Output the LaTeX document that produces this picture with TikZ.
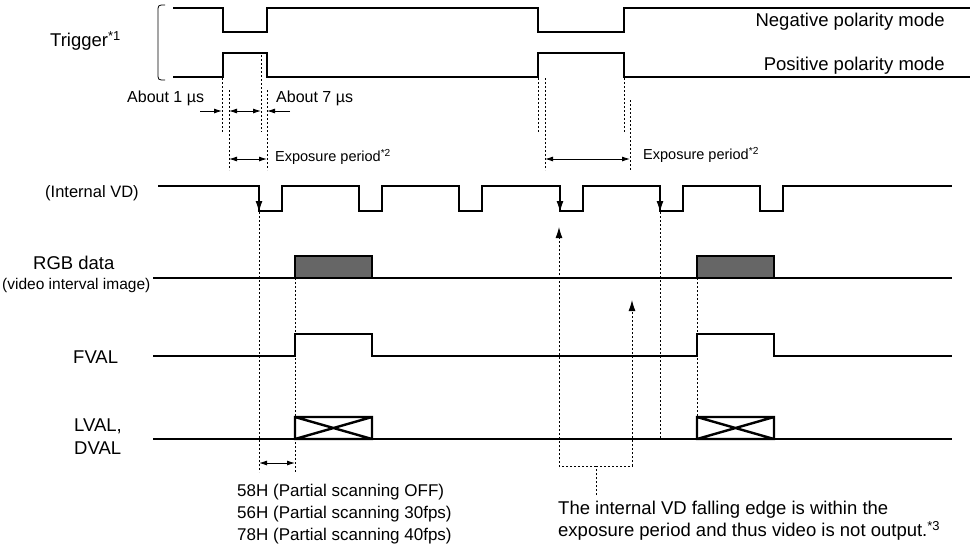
\documentclass[tikz,border=0pt]{standalone}
\usepackage{fontspec}
\setmainfont{Liberation Sans}
\usetikzlibrary{arrows.meta}
\definecolor{datafill}{HTML}{666666}
\tikzset{
  wave/.style={line width=2.4pt},
  guide/.style={line width=0.9pt, dash pattern=on 2pt off 2pt},
  dim/.style={line width=0.9pt, {Latex[length=8pt,width=5pt]}-{Latex[length=8pt,width=5pt]}},
  onedim/.style={line width=0.9pt, -{Latex[length=8pt,width=5pt]}},
  edge/.style={line width=1pt, -{Latex[length=11pt,width=7pt]}},
  lbl/.style={font=\fontsize{18.5}{22}\selectfont, inner sep=0pt, align=left},
  mid/.style={font=\fontsize{17}{22}\selectfont, inner sep=0pt, align=left},
  note/.style={font=\fontsize{14.5}{17}\selectfont, inner sep=0pt},
}
\begin{document}
\begin{tikzpicture}[x=1pt,y=-1pt]
\useasboundingbox (0,0) rectangle (976,550);

\begin{scope}
\draw[line width=0.8pt] (165,5) .. controls (158,5) .. (158,12) -- (158,73) .. controls (158,80) .. (165,80);
\draw[wave] (173,8) -- (223,8) -- (223,32) -- (267,32) -- (267,8) -- (538,8) -- (538,32) -- (624,32) -- (624,8) -- (970,8);
\draw[wave] (173,77) -- (223,77) -- (223,53) -- (267,53) -- (267,77) -- (538,77) -- (538,53) -- (624,53) -- (624,77) -- (970,77);
\node[lbl, anchor=west] (trig) at (50,41) {Trigger\textsuperscript{*1}};
\node[lbl, anchor=east] (neg) at (945,22) {Negative polarity mode};
\node[lbl, anchor=east] (pos) at (945,66) {Positive polarity mode};
\end{scope}

\begin{scope}
\draw[guide] (222,78) coordinate (r1) -- (222,132);
\draw[guide] (229,90) coordinate (s1) -- (229,170);
\draw[guide] (261,55) coordinate (f1) -- (261,132);
\draw[guide] (267,90) coordinate (e1) -- (267,170);
\draw[onedim] (200,111) -- (r1 |- 0,111);
\draw[dim] (s1 |- 0,111) -- (f1 |- 0,111);
\draw[onedim] (290,111) -- (e1 |- 0,111);
\draw[dim] (s1 |- 0,159) -- (e1 |- 0,159);
\node[note, anchor=west, font=\fontsize{16}{18}\selectfont] (one) at (127,98) {About 1 µs};
\node[note, anchor=west, font=\fontsize{16}{18}\selectfont] (seven) at (276,98) {About 7 µs};
\node[note, anchor=west] (expA) at (275,157) {Exposure period\textsuperscript{*2}};

\draw[guide] (538,78) -- (538,132);
\draw[guide] (545,78) coordinate (s2) -- (545,170);
\draw[guide] (624,78) -- (624,132);
\draw[guide] (630,100) coordinate (e2) -- (630,170);
\draw[dim] (s2 |- 0,159) -- (e2 |- 0,159);
\node[note, anchor=west] (expB) at (643,155) {Exposure period\textsuperscript{*2}};
\end{scope}

\begin{scope}
\draw[wave] (158,186) foreach \t in {259,359,459,560,660,760} { -- (\t,186) -- (\t,211) -- (\t+23,211) -- (\t+23,186) } -- (952,186);
\foreach \t in {259,560,660}
  \draw[edge] (\t,190) -- (\t,212);
\node[mid, anchor=west, font=\fontsize{16.5}{20}\selectfont] (vd) at (45,193) {(Internal VD)};

\draw[wave] (153,278) -- (952,278);
\draw[wave, fill=datafill] (295,256) rectangle (372,278);
\draw[wave, fill=datafill] (697,256) rectangle (774,278);
\node[lbl, anchor=west] (rgb) at (33,263) {RGB data};
\node[lbl, anchor=west, font=\fontsize{15.5}{18}\selectfont] (rgbsub) at (2,285) {(video interval image)};

\draw[wave] (153,356) -- (295,356) -- (295,334) -- (372,334) -- (372,356) -- (697,356) -- (697,334) -- (774,334) -- (774,356) -- (952,356);
\node[lbl, anchor=west] (fval) at (73,357) {FVAL};

\draw[wave] (153,439) -- (952,439);
\foreach \a in {295,697}
  \draw[wave] (\a,417) rectangle (\a+77,439) (\a,417) -- (\a+77,439) (\a,439) -- (\a+77,417);
\node[lbl, anchor=west] (lval) at (74,426) {LVAL,};
\node[lbl, anchor=west] (dval) at (74,448) {DVAL};
\end{scope}

\begin{scope}
\draw[guide] (259,212) coordinate (vdA) -- (259,472);
\draw[guide] (295,278) coordinate (rgbA) -- (295,472);
\draw[dim] (vdA |- 0,463) -- (rgbA |- 0,463);
\draw[guide] (697,278) -- (697,417);
\draw[guide] (660,212) -- (660,439);
\draw[guide] (596,495) coordinate (tip) -- (596,466);
\draw[guide, -{Latex[length=11pt,width=7pt]}] (596,466) -| (559,227);
\draw[guide, -{Latex[length=11pt,width=7pt]}] (596,466) -| (632,300);
\node[mid, anchor=north west] (lines) at (237,484) {58H (Partial scanning OFF)\\56H (Partial scanning 30fps)\\78H (Partial scanning 40fps)};
\node[lbl, anchor=north west] (why) at (558,501) {The internal VD falling edge is within the\\exposure period and thus video is not output.\textsuperscript{*3}};
\end{scope}

\end{tikzpicture}
\end{document}
